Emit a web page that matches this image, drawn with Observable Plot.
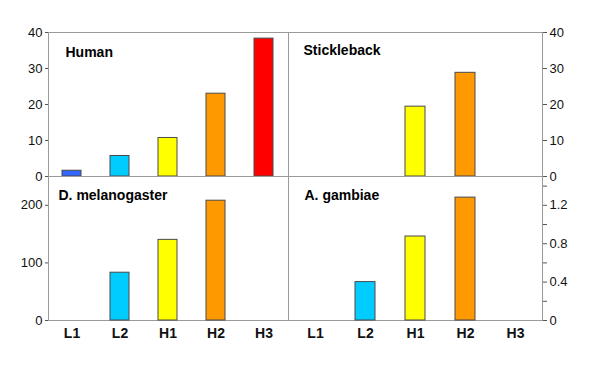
<!DOCTYPE html>
<html>
<head>
<meta charset="utf-8">
<script src="https://cdn.jsdelivr.net/npm/d3@7"></script>
<script src="https://cdn.jsdelivr.net/npm/@observablehq/plot@0.6"></script>
<style>
  html, body { margin: 0; padding: 0; background: #fff; }
  #chart { position: relative; width: 600px; height: 371px; overflow: hidden; font-family: "Liberation Sans", Arial, sans-serif; }
  #chart svg { position: absolute; left: 0; top: 0; }
</style>
</head>
<body>
<div id="chart"></div>
<script>
const categories = ["L1", "L2", "H1", "H2", "H3"];
const barColors = ["#3366ff", "#00ccff", "#ffff00", "#ff9900", "#ff0000"];

const humanValues = [1.6, 5.7, 10.7, 23.0, 38.3];
const sticklebackValues = [null, null, 19.4, 28.8, null];
const melanogasterValues = [null, 83, 140, 208, null];
const gambiaeValues = [null, 0.40, 0.875, 1.28, null];

const humanTicks = [0, 10, 20, 30, 40];
const sticklebackTicks = [0, 10, 20, 30, 40];
const melanogasterTicks = [0, 100, 200];
const gambiaeTicks = [0, 0.4, 0.8, 1.2];
const gambiaeMinorTicks = [0.2, 0.6, 1.0, 1.4];

const W = 600, H = 371;
const font = "Liberation Sans, Arial, sans-serif";

function panel({values, domain, ticks, minorTicks, title, side, row, titleDx, titleDy}) {
  const data = categories.map((c, i) => ({cat: c, v: values[i]}));
  const left = side === "left";
  const top = row === "top";
  const marks = [
    Plot.frame({stroke: "#9a9a9a"}),
    Plot.barY(data, {x: "cat", y: "v", fill: "cat", stroke: "#4a4a4a", strokeWidth: 1}),
    Plot.axisY({
      ticks: ticks,
      anchor: left ? "left" : "right",
      tickSize: left ? 3 : 4,
      tickPadding: left ? 3 : 3,
      fontSize: 13,
      tickFormat: d => String(d),
      label: null,
      stroke: "#555",
      color: "#111"
    }),
    Plot.text([title], {
      frameAnchor: "top-left", dx: titleDx, dy: titleDy,
      fontWeight: "bold", fontSize: 14, fill: "#000", lineAnchor: "top"
    })
  ];
  if (minorTicks) {
    marks.push(Plot.axisY({ticks: minorTicks, anchor: "right", tickSize: 4, tickFormat: () => "", label: null, stroke: "#555"}));
  }
  if (!top) {
    marks.push(Plot.axisX({tickSize: 0, tickPadding: 8, fontSize: 14, fontWeight: "bold", label: null, color: "#111"}));
  }
  return Plot.plot({
    width: W, height: H,
    marginLeft: left ? 48 : 288,
    marginRight: left ? 312 : 58,
    marginTop: top ? 32 : 176,
    marginBottom: top ? 195 : 51,
    style: {background: "transparent", fontFamily: font, overflow: "visible"},
    x: {domain: categories, paddingInner: 0.6, paddingOuter: 0.3, axis: null},
    y: {domain: domain, axis: null},
    color: {domain: categories, range: barColors},
    marks
  });
}

const chart = document.getElementById("chart");
chart.appendChild(panel({values: humanValues, domain: [0, 40], ticks: humanTicks, title: "Human", side: "left", row: "top", titleDx: 17, titleDy: 15}));
chart.appendChild(panel({values: sticklebackValues, domain: [0, 40], ticks: sticklebackTicks, title: "Stickleback", side: "right", row: "top", titleDx: 15, titleDy: 13}));
chart.appendChild(panel({values: melanogasterValues, domain: [0, 250], ticks: melanogasterTicks, title: "D. melanogaster", side: "left", row: "bottom", titleDx: 10, titleDy: 14}));
chart.appendChild(panel({values: gambiaeValues, domain: [0, 1.5], ticks: gambiaeTicks, minorTicks: gambiaeMinorTicks, title: "A. gambiae", side: "right", row: "bottom", titleDx: 16, titleDy: 14}));
</script>
</body>
</html>
